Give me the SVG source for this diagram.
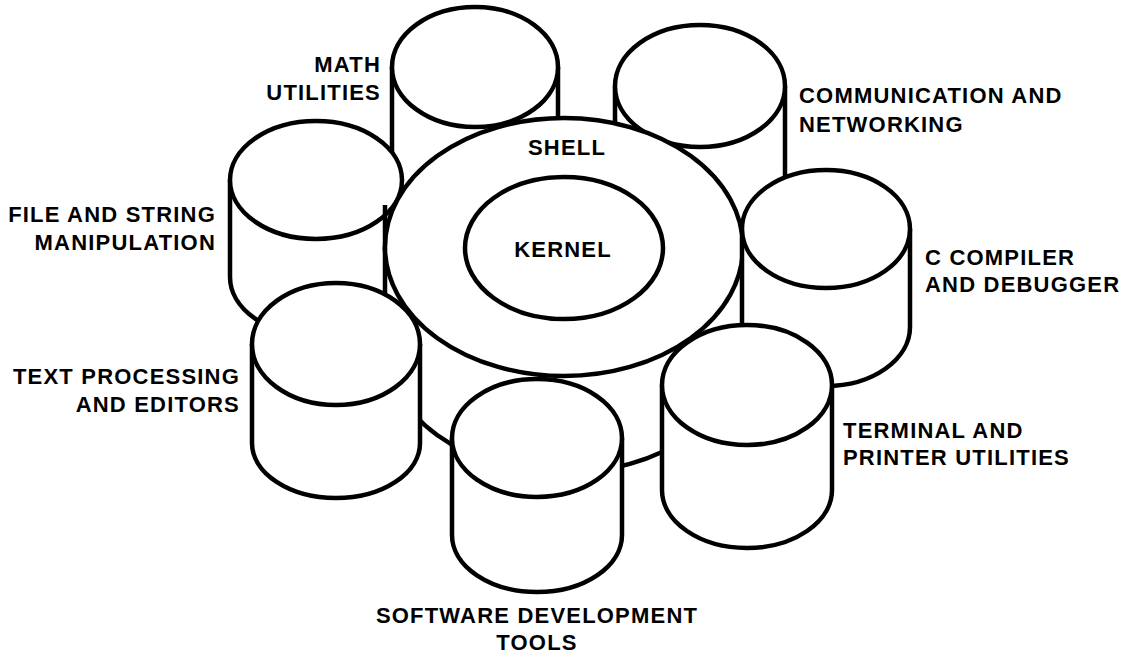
<svg xmlns="http://www.w3.org/2000/svg" width="1124" height="655" viewBox="0 0 1124 655">
<style>
.s{fill:#fff;stroke:#000;stroke-width:4.5;stroke-linejoin:round}
.o{fill:none;stroke:#000;stroke-width:4.5}
.f{fill:#fff;stroke:none}
text{font-family:"Liberation Sans",Arial,Helvetica,sans-serif;font-weight:bold;font-size:22px;letter-spacing:1.2px;fill:#000}
.e{text-anchor:end}
.m{text-anchor:middle}
</style>
<rect width="1124" height="655" fill="#fff"/>
<g id="math">
<path class="s" d="M392,67 L392,167 A83 60 0 0 0 558,167 L558,67"/>
<ellipse class="s" cx="475" cy="67" rx="83" ry="60"/>
<text class="e" x="381" y="72">MATH</text>
<text class="e" x="381" y="100">UTILITIES</text>
</g>
<g id="comm">
<path class="s" d="M615,86 L615,184 A85 61 0 0 0 785,184 L785,86"/>
<ellipse class="s" cx="700" cy="86" rx="85" ry="61"/>
<text x="799" y="103">COMMUNICATION AND</text>
<text x="799" y="132">NETWORKING</text>
</g>
<g id="file">
<path class="f" d="M230,180 L230,277 A86 59 0 0 0 402,277 L402,180 Z"/>
<path class="o" d="M230,180 L230,277 A86 59 0 0 0 402,277"/>
<ellipse class="s" cx="316" cy="180" rx="86" ry="59"/>
<text class="e" x="216" y="222">FILE AND STRING</text>
<text class="e" x="216" y="250">MANIPULATION</text>
</g>
<g id="shell">
<line class="o" x1="385" y1="205" x2="385" y2="250"/>
<path class="s" d="M385,247 L385,344 A179 129 0 0 0 743,344 L743,247"/>
<ellipse class="s" cx="564" cy="247" rx="179" ry="129"/>
<text class="m" x="567" y="155">SHELL</text>
</g>
<g id="kernel">
<ellipse class="s" cx="564" cy="248" rx="99" ry="71"/>
<text class="m" x="563" y="257">KERNEL</text>
</g>
<g id="ccomp">
<path class="s" d="M742,229 L742,327 A84 59 0 0 0 910,327 L910,229"/>
<ellipse class="s" cx="826" cy="229" rx="84" ry="59"/>
<text x="925" y="265">C COMPILER</text>
<text x="925" y="292">AND DEBUGGER</text>
</g>
<g id="text">
<path class="s" d="M252,344 L252,443 A84 55 0 0 0 420,443 L420,344"/>
<ellipse class="s" cx="336" cy="344" rx="84" ry="61"/>
<text class="e" x="240" y="384">TEXT PROCESSING</text>
<text class="e" x="240" y="412">AND EDITORS</text>
</g>
<g id="terminal">
<path class="s" d="M662,385 L662,490 A85 58 0 0 0 832,490 L832,385"/>
<ellipse class="s" cx="747" cy="385" rx="85" ry="60"/>
<text x="843" y="438">TERMINAL AND</text>
<text x="843" y="465">PRINTER UTILITIES</text>
</g>
<g id="software">
<path class="s" d="M452,438 L452,535 A85 57 0 0 0 622,535 L622,438"/>
<ellipse class="s" cx="537" cy="438" rx="85" ry="59"/>
<text class="m" x="537" y="623">SOFTWARE DEVELOPMENT</text>
<text class="m" x="537" y="650">TOOLS</text>
</g>
<g id="connectors"></g>
</svg>
